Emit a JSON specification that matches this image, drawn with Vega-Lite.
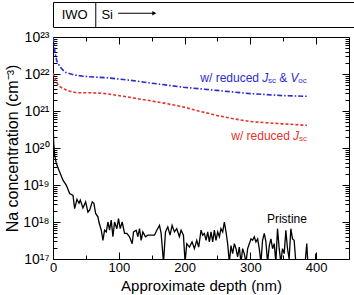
{
  "$schema": "https://vega.github.io/schema/vega-lite/v6.json",
  "padding": {"left": 4, "top": 1, "right": 0, "bottom": 0},
  "spacing": 1,
  "config": {"font": "Liberation Sans", "view": {"stroke": "black", "strokeWidth": 1}},
  "datasets": {
    "pristine": [
      {"depth": 0, "conc": 5.6e20}, {"depth": 1.0, "conc": 1.45e20}, {"depth": 2.5, "conc": 6.3e19}, {"depth": 5.1, "conc": 3.8e19},
      {"depth": 10.1, "conc": 2.24e19}, {"depth": 15.2, "conc": 1.35e19}, {"depth": 20.3, "conc": 9.8e18}, {"depth": 25.3, "conc": 5.9e18},
      {"depth": 30.4, "conc": 5.2e18}, {"depth": 32.9, "conc": 2.3e18}, {"depth": 36.4, "conc": 4.1e18}, {"depth": 39.5, "conc": 3.2e18},
      {"depth": 41.5, "conc": 3.9e18}, {"depth": 45.5, "conc": 2.4e18}, {"depth": 49.6, "conc": 3.5e18}, {"depth": 53.1, "conc": 1.86e18},
      {"depth": 55.7, "conc": 2.1e18}, {"depth": 59.7, "conc": 3.5e18}, {"depth": 62.2, "conc": 3.2e18}, {"depth": 64.8, "conc": 1.7e18},
      {"depth": 68.3, "conc": 1.38e18}, {"depth": 69.8, "conc": 1.0e18}, {"depth": 73.4, "conc": 6.0e17}, {"depth": 75.9, "conc": 3.2e17},
      {"depth": 78.4, "conc": 6.0e17}, {"depth": 81.0, "conc": 5.4e17}, {"depth": 83.5, "conc": 1.0e18}, {"depth": 86.0, "conc": 6.0e17},
      {"depth": 88.5, "conc": 1.12e18}, {"depth": 91.1, "conc": 4.0e17}, {"depth": 93.6, "conc": 1.0e18}, {"depth": 97.1, "conc": 6.6e17},
      {"depth": 99.6, "conc": 1.23e18}, {"depth": 102.2, "conc": 6.6e17}, {"depth": 105.2, "conc": 1.0e18}, {"depth": 108.8, "conc": 4.9e17},
      {"depth": 112.3, "conc": 4.9e17}, {"depth": 116.3, "conc": 4.0e17}, {"depth": 120.4, "conc": 2.6e17}, {"depth": 122.4, "conc": 5.4e17},
      {"depth": 126.5, "conc": 6.0e17}, {"depth": 129.0, "conc": 4.0e17}, {"depth": 131.5, "conc": 6.6e17}, {"depth": 134.0, "conc": 3.2e17},
      {"depth": 136.6, "conc": 5.4e17}, {"depth": 140.6, "conc": 4.0e17}, {"depth": 144.2, "conc": 4.4e17}, {"depth": 149.2, "conc": 4.4e17},
      {"depth": 154.3, "conc": 4.4e17}, {"depth": 157.8, "conc": 6.0e17}, {"depth": 161.9, "conc": 8.1e17}, {"depth": 164.4, "conc": 4.9e17},
      {"depth": 168.0, "conc": 8e16}, {"depth": 171.0, "conc": 5.4e17}, {"depth": 174.5, "conc": 7.4e17}, {"depth": 178.0, "conc": 4.4e17},
      {"depth": 181.1, "conc": 8.1e17}, {"depth": 184.6, "conc": 5.4e17}, {"depth": 188.1, "conc": 6.6e17}, {"depth": 192.2, "conc": 4.0e17},
      {"depth": 194.7, "conc": 6.0e17}, {"depth": 198.3, "conc": 4.4e17}, {"depth": 200.8, "conc": 8e16}, {"depth": 203.3, "conc": 2.6e17},
      {"depth": 207.4, "conc": 2.1e17}, {"depth": 211.4, "conc": 2.9e17}, {"depth": 215.0, "conc": 1.9e17}, {"depth": 218.5, "conc": 3.2e17},
      {"depth": 221.5, "conc": 2.1e17}, {"depth": 225.1, "conc": 6.0e17}, {"depth": 227.6, "conc": 4.4e17}, {"depth": 230.1, "conc": 4.9e17},
      {"depth": 232.7, "conc": 3.2e17}, {"depth": 235.2, "conc": 5.4e17}, {"depth": 237.7, "conc": 2.9e17}, {"depth": 240.3, "conc": 5.4e17},
      {"depth": 242.8, "conc": 2.9e17}, {"depth": 245.3, "conc": 6.0e17}, {"depth": 247.8, "conc": 3.2e17}, {"depth": 250.4, "conc": 5.4e17},
      {"depth": 252.9, "conc": 4.0e17}, {"depth": 255.4, "conc": 6.6e17}, {"depth": 258.0, "conc": 5.4e17}, {"depth": 260.5, "conc": 1.0e18},
      {"depth": 263.0, "conc": 5.4e17}, {"depth": 265.5, "conc": 2.6e17}, {"depth": 268.1, "conc": 8e16}, {"depth": 270.6, "conc": 2.3e17},
      {"depth": 273.1, "conc": 1.4e17}, {"depth": 275.7, "conc": 2.6e17}, {"depth": 278.2, "conc": 1.9e17}, {"depth": 280.7, "conc": 1.15e17},
      {"depth": 283.2, "conc": 2.1e17}, {"depth": 285.8, "conc": 8e16}, {"depth": 288.3, "conc": 1.9e17}, {"depth": 290.8, "conc": 1.4e17},
      {"depth": 293.4, "conc": 8e16}, {"depth": 295.9, "conc": 1.9e17}, {"depth": 301.0, "conc": 3.5e17}, {"depth": 303.5, "conc": 3.2e17},
      {"depth": 306.0, "conc": 4.0e17}, {"depth": 308.5, "conc": 2.9e17}, {"depth": 311.1, "conc": 3.5e17}, {"depth": 313.6, "conc": 1.9e17},
      {"depth": 316.1, "conc": 8e16}, {"depth": 318.6, "conc": 3.2e17}, {"depth": 321.2, "conc": 4.9e17}, {"depth": 323.7, "conc": 2.9e17},
      {"depth": 326.2, "conc": 8e16}, {"depth": 328.8, "conc": 2.3e17}, {"depth": 331.3, "conc": 3.5e17}, {"depth": 333.8, "conc": 1.9e17},
      {"depth": 336.3, "conc": 2.6e17}, {"depth": 338.8, "conc": 8e16}, {"depth": 341.3, "conc": 6.6e17}, {"depth": 343.9, "conc": 1.9e17},
      {"depth": 346.4, "conc": 8e16}, {"depth": 348.9, "conc": 1.9e17}, {"depth": 351.5, "conc": 1.4e17}, {"depth": 354.0, "conc": 6.0e17},
      {"depth": 356.5, "conc": 1.9e17}, {"depth": 359.0, "conc": 1.0e17}, {"depth": 361.6, "conc": 6.6e17}, {"depth": 364.1, "conc": 3.5e17},
      {"depth": 366.6, "conc": 3.2e17}, {"depth": 369.2, "conc": 8e16}, {"depth": 383.3, "conc": 8e16}, {"depth": 385.8, "conc": 2.6e17},
      {"depth": 387.4, "conc": 8e16}, {"depth": 399.0, "conc": 8e16}, {"depth": 399.5, "conc": 1.4e17}, {"depth": 400.0, "conc": 8e16}
    ],
    "reducedJsc": [
      {"depth": 0, "conc": 1.05e22}, {"depth": 0.5, "conc": 9.6e21}, {"depth": 3.0, "conc": 7.4e21}, {"depth": 8.0, "conc": 4.9e21},
      {"depth": 15.7, "conc": 4.0e21}, {"depth": 25.8, "conc": 3.4e21}, {"depth": 36.0, "conc": 3.1e21}, {"depth": 46.0, "conc": 3.1e21},
      {"depth": 61.0, "conc": 3.1e21}, {"depth": 76.5, "conc": 3.0e21}, {"depth": 91.7, "conc": 2.75e21}, {"depth": 107.0, "conc": 2.5e21},
      {"depth": 122.0, "conc": 2.25e21}, {"depth": 142.5, "conc": 1.97e21}, {"depth": 173.0, "conc": 1.58e21},
      {"depth": 198.0, "conc": 1.29e21}, {"depth": 223.5, "conc": 9.8e20}, {"depth": 249.0, "conc": 7.6e20}, {"depth": 274.0, "conc": 6.2e20},
      {"depth": 299.5, "conc": 5.2e20}, {"depth": 325.0, "conc": 4.8e20}, {"depth": 350.0, "conc": 4.5e20}, {"depth": 386.0, "conc": 4.1e20}
    ],
    "reducedJscVoc": [
      {"depth": 0, "conc": 1.0e23}, {"depth": 0.5, "conc": 9.0e22}, {"depth": 3.0, "conc": 3.9e22}, {"depth": 5.6, "conc": 2.3e22},
      {"depth": 10.6, "conc": 1.55e22}, {"depth": 18.2, "conc": 1.12e22}, {"depth": 30.9, "conc": 9.5e21}, {"depth": 46.0, "conc": 8.7e21},
      {"depth": 61.0, "conc": 8.3e21}, {"depth": 82.0, "conc": 7.9e21}, {"depth": 97.0, "conc": 7.4e21}, {"depth": 117.0, "conc": 6.8e21},
      {"depth": 145.0, "conc": 5.8e21}, {"depth": 198.0, "conc": 4.4e21}, {"depth": 249.0, "conc": 3.6e21},
      {"depth": 300.0, "conc": 2.95e21}, {"depth": 350.0, "conc": 2.6e21}, {"depth": 386.0, "conc": 2.5e21}
    ]
  },
  "vconcat": [
    {
      "width": 302,
      "height": 25,
      "data": {"values": [{}]},
      "layer": [
        {
          "mark": {"type": "rule", "color": "black", "strokeWidth": 1},
          "encoding": {"x": {"datum": 65, "type": "quantitative", "scale": {"domain": [0, 459], "nice": false}, "axis": null}}
        },
        {
          "mark": {"type": "text", "text": "IWO", "fontSize": 13, "align": "center", "baseline": "middle", "color": "black"},
          "encoding": {
            "x": {"datum": 33, "type": "quantitative", "scale": {"domain": [0, 459], "nice": false}, "axis": null},
            "y": {"datum": 0.5, "type": "quantitative", "scale": {"domain": [0, 1]}, "axis": null}
          }
        },
        {
          "mark": {"type": "text", "text": "Si", "fontSize": 13, "align": "center", "baseline": "middle", "color": "black"},
          "encoding": {
            "x": {"datum": 82.4, "type": "quantitative", "scale": {"domain": [0, 459], "nice": false}, "axis": null},
            "y": {"datum": 0.5, "type": "quantitative", "scale": {"domain": [0, 1]}, "axis": null}
          }
        },
        {
          "mark": {"type": "rule", "color": "black", "strokeWidth": 1},
          "encoding": {
            "x": {"datum": 99, "type": "quantitative", "scale": {"domain": [0, 459], "nice": false}, "axis": null},
            "x2": {"datum": 153},
            "y": {"datum": 0.55, "type": "quantitative", "scale": {"domain": [0, 1]}, "axis": null}
          }
        },
        {
          "mark": {"type": "point", "shape": "triangle-right", "filled": true, "color": "black", "size": 22, "opacity": 1},
          "encoding": {
            "x": {"datum": 154, "type": "quantitative", "scale": {"domain": [0, 459], "nice": false}, "axis": null},
            "y": {"datum": 0.55, "type": "quantitative", "scale": {"domain": [0, 1]}, "axis": null}
          }
        }
      ]
    },
    {
      "width": 296,
      "height": 222,
      "resolve": {"axis": {"x": "independent", "y": "independent"}},
      "layer": [
        {
          "data": {"name": "pristine"},
          "mark": {"type": "line", "color": "black", "strokeWidth": 1.3, "clip": true},
          "encoding": {
            "x": {
              "field": "depth", "type": "quantitative",
              "scale": {"domain": [0, 450], "nice": false},
              "axis": {
                "orient": "bottom", "title": "Approximate depth (nm)", "titleFontSize": 15, "titleFontWeight": "normal", "titleColor": "black", "titlePadding": 1,
                "values": [0, 50, 100, 150, 200, 250, 300, 350, 400],
                "labelExpr": "datum.value % 100 === 0 ? datum.label : ''",
                "labelFontSize": 13, "labelColor": "black", "labelPadding": 9, "labelOverlap": false, "labelFlush": false,
                "tickSize": {"condition": {"test": "datum.value % 100 === 0", "value": -7}, "value": -4},
                "tickColor": "black", "tickWidth": 1, "domain": false, "grid": false
              }
            },
            "y": {
              "field": "conc", "type": "quantitative",
              "scale": {"type": "log", "domain": [1e17, 1e23], "nice": false},
              "axis": {
                "orient": "left", "title": "Na concentration (cm⁻³)", "titleFontSize": 16, "titleFontWeight": "normal", "titleColor": "black", "titlePadding": 2,
                "values": [1e17, 2e17, 3e17, 4e17, 5e17, 6e17, 7e17, 8e17, 9e17, 1e18, 2e18, 3e18, 4e18, 5e18, 6e18, 7e18, 8e18, 9e18, 1e19, 2e19, 3e19, 4e19, 5e19, 6e19, 7e19, 8e19, 9e19, 1e20, 2e20, 3e20, 4e20, 5e20, 6e20, 7e20, 8e20, 9e20, 1e21, 2e21, 3e21, 4e21, 5e21, 6e21, 7e21, 8e21, 9e21, 1e22, 2e22, 3e22, 4e22, 5e22, 6e22, 7e22, 8e22, 9e22, 1e23],
                "labelExpr": "abs(log(datum.value)/LN10 - round(log(datum.value)/LN10)) < 0.001 ? '10' + ['⁰','¹','²','³','⁴','⁵','⁶','⁷','⁸','⁹'][floor(round(log(datum.value)/LN10)/10)] + ['⁰','¹','²','³','⁴','⁵','⁶','⁷','⁸','⁹'][round(log(datum.value)/LN10) % 10] : ''",
                "labelFontSize": 14, "labelColor": "black", "labelPadding": 11, "labelOverlap": false, "labelFlush": false,
                "tickSize": {"condition": {"test": "abs(log(datum.value)/LN10 - round(log(datum.value)/LN10)) < 0.001", "value": -7}, "value": -4},
                "tickColor": "black", "tickWidth": 1, "domain": false, "grid": false
              }
            }
          }
        },
        {
          "data": {"name": "reducedJsc"},
          "mark": {"type": "line", "color": "#e5322b", "strokeWidth": 1.6, "strokeDash": [3, 2], "clip": true},
          "encoding": {
            "x": {
              "field": "depth", "type": "quantitative",
              "scale": {"domain": [0, 450], "nice": false},
              "axis": {
                "orient": "top", "title": null, "labels": false,
                "values": [0, 50, 100, 150, 200, 250, 300, 350, 400],
                "tickSize": {"condition": {"test": "datum.value % 100 === 0", "value": -7}, "value": -4},
                "tickColor": "black", "tickWidth": 1, "domain": false, "grid": false
              }
            },
            "y": {
              "field": "conc", "type": "quantitative",
              "scale": {"type": "log", "domain": [1e17, 1e23], "nice": false},
              "axis": {
                "orient": "right", "title": null, "labels": false,
                "values": [1e17, 2e17, 3e17, 4e17, 5e17, 6e17, 7e17, 8e17, 9e17, 1e18, 2e18, 3e18, 4e18, 5e18, 6e18, 7e18, 8e18, 9e18, 1e19, 2e19, 3e19, 4e19, 5e19, 6e19, 7e19, 8e19, 9e19, 1e20, 2e20, 3e20, 4e20, 5e20, 6e20, 7e20, 8e20, 9e20, 1e21, 2e21, 3e21, 4e21, 5e21, 6e21, 7e21, 8e21, 9e21, 1e22, 2e22, 3e22, 4e22, 5e22, 6e22, 7e22, 8e22, 9e22, 1e23],
                "tickSize": {"condition": {"test": "abs(log(datum.value)/LN10 - round(log(datum.value)/LN10)) < 0.001", "value": -7}, "value": -4},
                "tickColor": "black", "tickWidth": 1, "domain": false, "grid": false
              }
            }
          }
        },
        {
          "data": {"name": "reducedJscVoc"},
          "mark": {"type": "line", "color": "#2b2bd4", "strokeWidth": 1.6, "strokeDash": [5, 2, 1.5, 2], "clip": true},
          "encoding": {
            "x": {"field": "depth", "type": "quantitative", "scale": {"domain": [0, 450], "nice": false}, "axis": null},
            "y": {"field": "conc", "type": "quantitative", "scale": {"type": "log", "domain": [1e17, 1e23], "nice": false}, "axis": null}
          }
        },
        {
          "data": {"values": [{}]},
          "mark": {"type": "text", "text": "w/ reduced", "fontSize": 12, "align": "left", "baseline": "middle", "color": "#2b2bd4"},
          "encoding": {
            "x": {"datum": 224, "type": "quantitative", "scale": {"domain": [0, 450], "nice": false}, "axis": null},
            "y": {"datum": 7.8e21, "type": "quantitative", "scale": {"type": "log", "domain": [1e17, 1e23], "nice": false}, "axis": null}
          }
        },
        {
          "data": {"values": [{}]},
          "mark": {"type": "text", "text": "J", "fontSize": 12, "fontStyle": "italic", "align": "left", "baseline": "middle", "color": "#2b2bd4"},
          "encoding": {
            "x": {"datum": 318, "type": "quantitative", "scale": {"domain": [0, 450], "nice": false}, "axis": null},
            "y": {"datum": 7.8e21, "type": "quantitative", "scale": {"type": "log", "domain": [1e17, 1e23], "nice": false}, "axis": null}
          }
        },
        {
          "data": {"values": [{}]},
          "mark": {"type": "text", "text": "sc", "fontSize": 8, "align": "left", "baseline": "middle", "dy": 3, "color": "#2b2bd4"},
          "encoding": {
            "x": {"datum": 327, "type": "quantitative", "scale": {"domain": [0, 450], "nice": false}, "axis": null},
            "y": {"datum": 7.8e21, "type": "quantitative", "scale": {"type": "log", "domain": [1e17, 1e23], "nice": false}, "axis": null}
          }
        },
        {
          "data": {"values": [{}]},
          "mark": {"type": "text", "text": "&", "fontSize": 12, "align": "left", "baseline": "middle", "color": "#2b2bd4"},
          "encoding": {
            "x": {"datum": 344, "type": "quantitative", "scale": {"domain": [0, 450], "nice": false}, "axis": null},
            "y": {"datum": 7.8e21, "type": "quantitative", "scale": {"type": "log", "domain": [1e17, 1e23], "nice": false}, "axis": null}
          }
        },
        {
          "data": {"values": [{}]},
          "mark": {"type": "text", "text": "V", "fontSize": 12, "fontStyle": "italic", "align": "left", "baseline": "middle", "color": "#2b2bd4"},
          "encoding": {
            "x": {"datum": 361, "type": "quantitative", "scale": {"domain": [0, 450], "nice": false}, "axis": null},
            "y": {"datum": 7.8e21, "type": "quantitative", "scale": {"type": "log", "domain": [1e17, 1e23], "nice": false}, "axis": null}
          }
        },
        {
          "data": {"values": [{}]},
          "mark": {"type": "text", "text": "oc", "fontSize": 8, "align": "left", "baseline": "middle", "dy": 3, "color": "#2b2bd4"},
          "encoding": {
            "x": {"datum": 373, "type": "quantitative", "scale": {"domain": [0, 450], "nice": false}, "axis": null},
            "y": {"datum": 7.8e21, "type": "quantitative", "scale": {"type": "log", "domain": [1e17, 1e23], "nice": false}, "axis": null}
          }
        },
        {
          "data": {"values": [{}]},
          "mark": {"type": "text", "text": "w/ reduced", "fontSize": 12, "align": "left", "baseline": "middle", "color": "#e5322b"},
          "encoding": {
            "x": {"datum": 271, "type": "quantitative", "scale": {"domain": [0, 450], "nice": false}, "axis": null},
            "y": {"datum": 2.1e20, "type": "quantitative", "scale": {"type": "log", "domain": [1e17, 1e23], "nice": false}, "axis": null}
          }
        },
        {
          "data": {"values": [{}]},
          "mark": {"type": "text", "text": "J", "fontSize": 12, "fontStyle": "italic", "align": "left", "baseline": "middle", "color": "#e5322b"},
          "encoding": {
            "x": {"datum": 365, "type": "quantitative", "scale": {"domain": [0, 450], "nice": false}, "axis": null},
            "y": {"datum": 2.1e20, "type": "quantitative", "scale": {"type": "log", "domain": [1e17, 1e23], "nice": false}, "axis": null}
          }
        },
        {
          "data": {"values": [{}]},
          "mark": {"type": "text", "text": "sc", "fontSize": 8, "align": "left", "baseline": "middle", "dy": 3, "color": "#e5322b"},
          "encoding": {
            "x": {"datum": 374, "type": "quantitative", "scale": {"domain": [0, 450], "nice": false}, "axis": null},
            "y": {"datum": 2.1e20, "type": "quantitative", "scale": {"type": "log", "domain": [1e17, 1e23], "nice": false}, "axis": null}
          }
        },
        {
          "data": {"values": [{}]},
          "mark": {"type": "text", "text": "Pristine", "fontSize": 12, "align": "right", "baseline": "middle", "color": "black"},
          "encoding": {
            "x": {"datum": 386, "type": "quantitative", "scale": {"domain": [0, 450], "nice": false}, "axis": null},
            "y": {"datum": 1.2e18, "type": "quantitative", "scale": {"type": "log", "domain": [1e17, 1e23], "nice": false}, "axis": null}
          }
        }
      ]
    }
  ]
}
